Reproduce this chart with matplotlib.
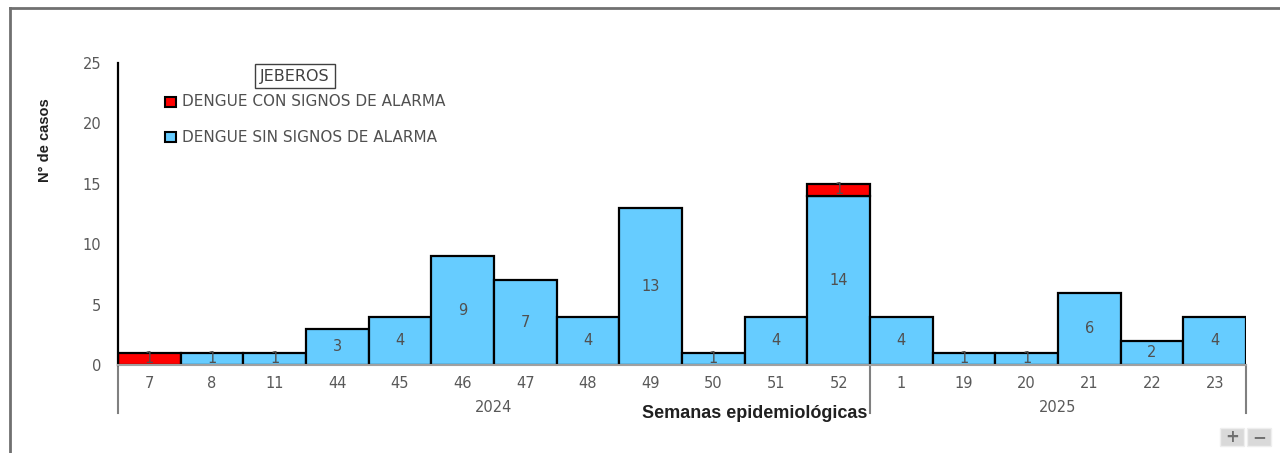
import matplotlib
matplotlib.use("Agg")
import matplotlib.pyplot as plt
from matplotlib.patches import Rectangle
from matplotlib.lines import Line2D

# data
semanas = ["7", "8", "11", "44", "45", "46", "47", "48", "49", "50", "51", "52",
           "1", "19", "20", "21", "22", "23"]
anios = ["2024"] * 12 + ["2025"] * 6
sin_signos = [0, 1, 1, 3, 4, 9, 7, 4, 13, 1, 4, 14, 4, 1, 1, 6, 2, 4]
con_signos = [1, 0, 0, 0, 0, 0, 0, 0, 0, 0, 0, 1, 0, 0, 0, 0, 0, 0]
y_ticks = [0, 5, 10, 15, 20, 25]

AZUL = "#66CCFF"
ROJO = "#FF0000"
GRIS = "#595959"

W, H = 1280, 453
fig = plt.figure(figsize=(W / 100, H / 100), dpi=100)
ax = fig.add_axes([118 / W, 88 / H, 1128 / W, 302 / H])

x = list(range(len(semanas)))
for i in x:
    if sin_signos[i] > 0:
        ax.bar(i, sin_signos[i], width=1.0, color=AZUL, edgecolor="black",
               linewidth=1.6, zorder=2)
        ax.text(i, sin_signos[i] / 2, str(sin_signos[i]), ha="center", va="center",
                fontsize=10.5, color="#505050", zorder=3)
    if con_signos[i] > 0:
        ax.bar(i, con_signos[i], bottom=sin_signos[i], width=1.0, color=ROJO,
               edgecolor="black", linewidth=1.6, zorder=2)
        ax.text(i, sin_signos[i] + con_signos[i] / 2, str(con_signos[i]),
                ha="center", va="center", fontsize=10.5, color="#505050", zorder=3)

ax.set_xlim(-0.5, len(semanas) - 0.5)
ax.set_ylim(0, 25)
ax.set_yticks(y_ticks)
ax.set_xticks(x)
ax.set_xticklabels(semanas)
ax.tick_params(axis="both", length=0, labelsize=10.5, labelcolor=GRIS)
ax.tick_params(axis="y", pad=12)
ax.tick_params(axis="x", pad=8)
for s in ["top", "right"]:
    ax.spines[s].set_visible(False)
ax.spines["left"].set_color("black")
ax.spines["left"].set_linewidth(1.6)
ax.spines["bottom"].set_color("#a0a0a0")
ax.spines["bottom"].set_linewidth(1.5)

# year groups under the week labels
trans = ax.get_xaxis_transform()
grupos = []
for i, a in enumerate(anios):
    if not grupos or grupos[-1][0] != a:
        grupos.append([a, i, i])
    else:
        grupos[-1][2] = i
for a, i0, i1 in grupos:
    ax.text((i0 + i1) / 2, -0.14, a, transform=trans, ha="center", va="center",
            fontsize=10.5, color=GRIS)
bordes = [g[1] - 0.5 for g in grupos] + [grupos[-1][2] + 0.5]
for b in bordes:
    ax.add_line(Line2D([b, b], [0, -0.16], transform=trans, color="#808080",
                       linewidth=1.5, clip_on=False))

fig.text(755 / W, 1 - 413 / H, "Semanas epidemiológicas", ha="center", va="center",
         fontsize=13, fontweight="bold", family="Liberation Sans", color="#202020")
fig.text(45 / W, 1 - 140 / H, "N° de casos", ha="center", va="center", rotation=90,
         fontsize=10.5, fontweight="bold", family="Liberation Sans", color="#202020")

# legend
fig.text(295 / W, 1 - 76 / H, "JEBEROS", ha="center", va="center", fontsize=11.5,
         color="#404040",
         bbox=dict(boxstyle="square,pad=0.3", facecolor="white",
                   edgecolor="#404040", linewidth=1))
for yy, col, lab in [(102, ROJO, "DENGUE CON SIGNOS DE ALARMA"),
                     (137, AZUL, "DENGUE SIN SIGNOS DE ALARMA")]:
    fig.add_artist(Rectangle((165 / W, 1 - (yy + 5) / H), 11 / W, 10 / H,
                             transform=fig.transFigure, facecolor=col,
                             edgecolor="black", linewidth=1.5))
    fig.text(182 / W, 1 - yy / H, lab, ha="left", va="center", fontsize=11,
             color="#505050")

# outer frame
fig.add_artist(Line2D([10 / W, 10 / W], [0, 1 - 8 / H], transform=fig.transFigure,
                      color="#707070", linewidth=2))
fig.add_artist(Line2D([10 / W, 1], [1 - 8 / H, 1 - 8 / H], transform=fig.transFigure,
                      color="#707070", linewidth=2))

# zoom buttons
for x0, sym in [(1220, "+"), (1247, "−")]:
    fig.add_artist(Rectangle((x0 / W, 1 - 446 / H), 24 / W, 18 / H,
                             transform=fig.transFigure, facecolor="#d9d9d9",
                             edgecolor="#eeeeee", linewidth=1))
    fig.text((x0 + 12) / W, 1 - 437 / H, sym, ha="center", va="center",
             fontsize=12, fontweight="bold", color="#707070")

fig.savefig("out.png", dpi=100)
